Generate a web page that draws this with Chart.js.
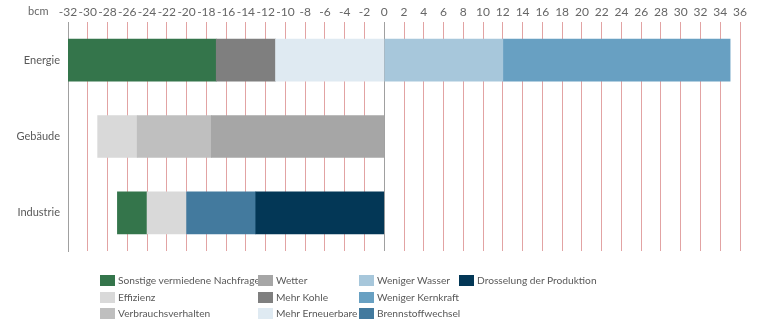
<!DOCTYPE html>
<html lang="de">
<head>
<meta charset="utf-8">
<script src="https://cdn.jsdelivr.net/npm/chart.js@4"></script>
<style>
  html, body { margin: 0; padding: 0; background: #fff; }
  #wrap { position: relative; width: 768px; height: 324px; font-family: Lato, sans-serif; color: #595959; }
  #c { position: absolute; left: 0; top: 0; }
  #unit { position: absolute; left: 28px; top: 4px; font-size: 11px; color: #666; }
  #legend { position: absolute; left: 0; top: 0; width: 768px; height: 324px; pointer-events: none; }
  .li { position: absolute; display: flex; align-items: center; font-size: 10.2px; white-space: nowrap; color: #595959; }
  .sw { width: 15px; height: 11px; margin-right: 3px; flex: none; }
</style>
</head>
<body>
<div id="wrap">
  <canvas id="c" width="768" height="324"></canvas>
  <div id="unit">bcm</div>
  <div id="legend"></div>
</div>
<script>
// Sectors
const categories = ["Energie", "Gebäude", "Industrie"];

// Contributions per sector, bcm (negative = savings, null = not applicable)
const sonstigeNachfrage   = [-15, null, -3];
const effizienz           = [null, -4, -4];
const verbrauchsverhalten = [null, -7.5, null];
const wetter              = [null, -17.5, null];
const mehrKohle           = [-6, null, null];
const mehrErneuerbare     = [-11, null, null];
const wenigerWasser       = [12, null, null];
const wenigerKernkraft    = [23, null, null];
const brennstoffwechsel   = [null, null, -7];
const drosselung          = [null, null, -13];

// Axis ticks
const tickMin = -32, tickMax = 36, tickStep = 2;

// Series in legend order; "stack" gives the stacking position (lowest = next to zero)
const series = [
  { label: "Sonstige vermiedene Nachfrage", data: sonstigeNachfrage,   color: "#34754b", stack: 7, col: 0, row: 0 },
  { label: "Effizienz",                     data: effizienz,           color: "#d9d9d9", stack: 6, col: 0, row: 1 },
  { label: "Verbrauchsverhalten",           data: verbrauchsverhalten, color: "#bfbfbf", stack: 5, col: 0, row: 2 },
  { label: "Wetter",                        data: wetter,              color: "#a6a6a6", stack: 2, col: 1, row: 0 },
  { label: "Mehr Kohle",                    data: mehrKohle,           color: "#7f7f7f", stack: 4, col: 1, row: 1 },
  { label: "Mehr Erneuerbare",              data: mehrErneuerbare,     color: "#dfeaf2", stack: 3, col: 1, row: 2 },
  { label: "Weniger Wasser",                data: wenigerWasser,       color: "#a7c7db", stack: 8, col: 2, row: 0 },
  { label: "Weniger Kernkraft",             data: wenigerKernkraft,    color: "#68a0c2", stack: 9, col: 2, row: 1 },
  { label: "Brennstoffwechsel",             data: brennstoffwechsel,   color: "#437a9e", stack: 1, col: 2, row: 2 },
  { label: "Drosselung der Produktion",     data: drosselung,          color: "#033756", stack: 0, col: 3, row: 0 }
];

const ordered = series.slice().sort((a, b) => a.stack - b.stack);

const datasets = ordered.map(s => ({
  label: s.label,
  data: s.data,
  backgroundColor: s.color,
  borderWidth: 0,
  barThickness: 42
}));

new Chart(document.getElementById("c"), {
  type: "bar",
  data: { labels: categories, datasets },
  options: {
    indexAxis: "y",
    responsive: false,
    animation: false,
    layout: { padding: { left: 0, right: 28, top: 0, bottom: 73 } },
    plugins: { legend: { display: false }, tooltip: { enabled: false } },
    scales: {
      x: {
        position: "top",
        stacked: true,
        min: tickMin,
        max: tickMax,
        afterFit(scale) { scale.height = 22; },
        ticks: {
          stepSize: tickStep,
          autoSkip: false,
          maxRotation: 0,
          minRotation: 0,
          padding: 3,
          color: "#666",
          font: { family: "Lato", size: 12 }
        },
        grid: {
          drawTicks: false,
          lineWidth: 1,
          color: ctx => (ctx.tick && (ctx.tick.value === 0 || ctx.tick.value === tickMin)) ? "#a0a0a0" : "#e2a3a3"
        },
        border: { display: false }
      },
      y: {
        stacked: true,
        afterFit(scale) { scale.width = 68; },
        ticks: {
          padding: 8,
          color: "#595959",
          font: { family: "Lato", size: 11 }
        },
        grid: { display: false, drawTicks: false },
        border: { display: true, color: "#a0a0a0", width: 1 }
      }
    }
  }
});

// Legend in columns
const colX = [100, 258, 359, 459];
const rowY = [280, 297, 313];
const legend = document.getElementById("legend");
series.forEach(s => {
  const item = document.createElement("div");
  item.className = "li";
  item.style.left = colX[s.col] + "px";
  item.style.top = (rowY[s.row] - 8) + "px";
  item.style.height = "16px";
  const sw = document.createElement("span");
  sw.className = "sw";
  sw.style.background = s.color;
  const tx = document.createElement("span");
  tx.textContent = s.label;
  item.appendChild(sw);
  item.appendChild(tx);
  legend.appendChild(item);
});
</script>
</body>
</html>
